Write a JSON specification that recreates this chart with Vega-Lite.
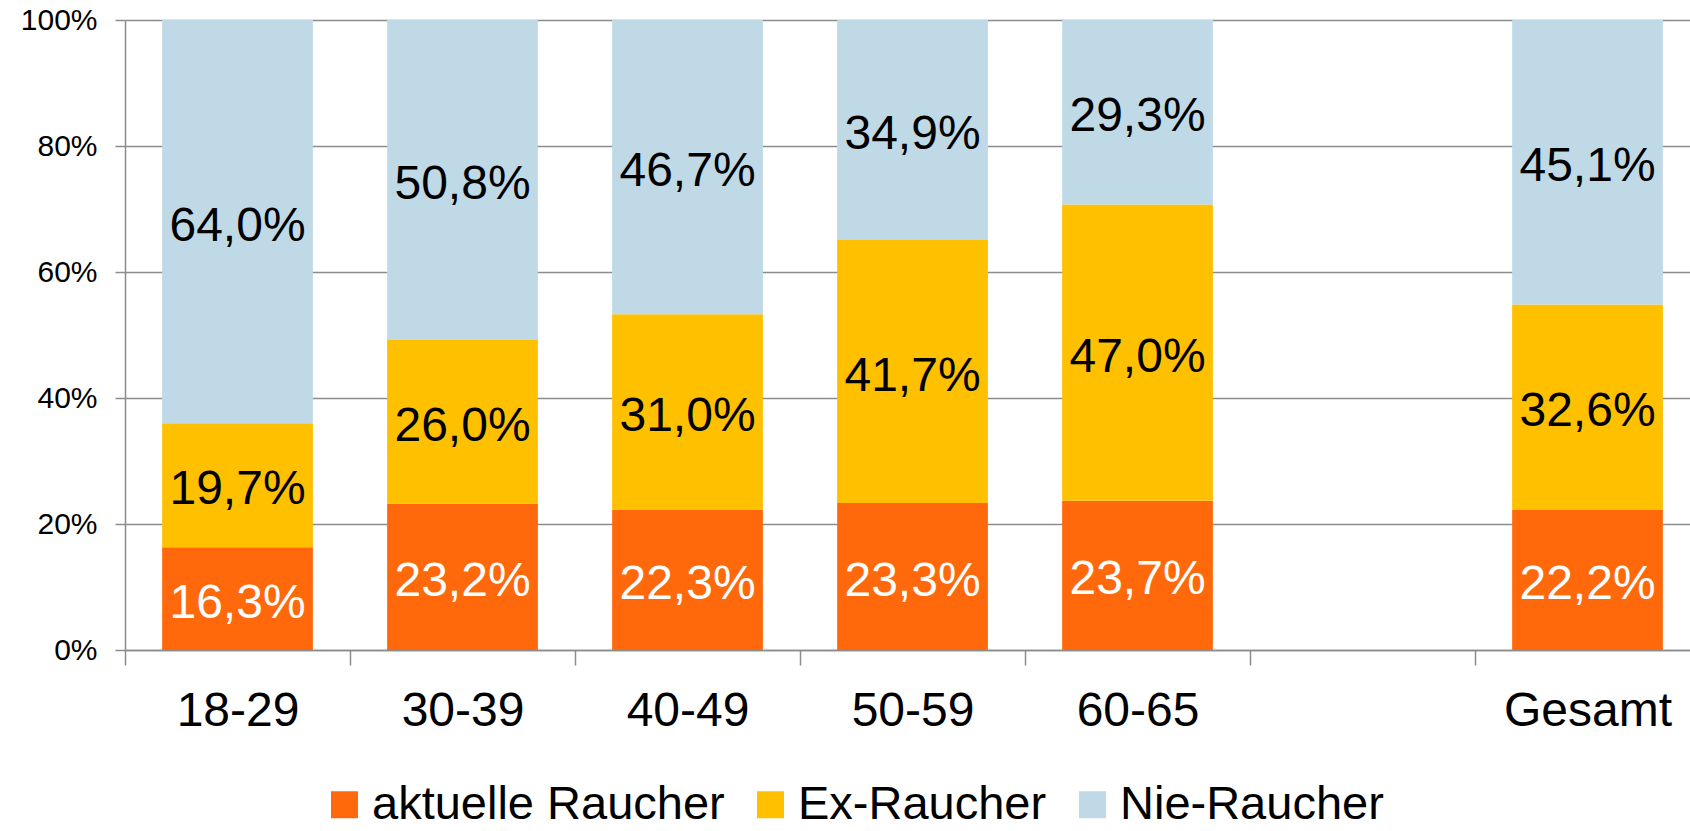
{
  "$schema": "https://vega.github.io/schema/vega-lite/v6.json",
  "width": 1565,
  "height": 630,
  "autosize": {"type": "none"},
  "padding": {"left": 125, "top": 20, "right": 0, "bottom": 181},
  "config": {
    "locale": {"number": {"decimal": ",", "thousands": ".", "grouping": [3], "currency": ["", "%"]}},
    "view": {"stroke": null},
    "font": "Liberation Sans"
  },
  "data": {
    "values": [
      {"Gruppe": "18-29", "Status": "aktuelle Raucher", "Rang": 1, "Anteil": 16.3},
      {"Gruppe": "18-29", "Status": "Ex-Raucher", "Rang": 2, "Anteil": 19.7},
      {"Gruppe": "18-29", "Status": "Nie-Raucher", "Rang": 3, "Anteil": 64.0},
      {"Gruppe": "30-39", "Status": "aktuelle Raucher", "Rang": 1, "Anteil": 23.2},
      {"Gruppe": "30-39", "Status": "Ex-Raucher", "Rang": 2, "Anteil": 26.0},
      {"Gruppe": "30-39", "Status": "Nie-Raucher", "Rang": 3, "Anteil": 50.8},
      {"Gruppe": "40-49", "Status": "aktuelle Raucher", "Rang": 1, "Anteil": 22.3},
      {"Gruppe": "40-49", "Status": "Ex-Raucher", "Rang": 2, "Anteil": 31.0},
      {"Gruppe": "40-49", "Status": "Nie-Raucher", "Rang": 3, "Anteil": 46.7},
      {"Gruppe": "50-59", "Status": "aktuelle Raucher", "Rang": 1, "Anteil": 23.3},
      {"Gruppe": "50-59", "Status": "Ex-Raucher", "Rang": 2, "Anteil": 41.7},
      {"Gruppe": "50-59", "Status": "Nie-Raucher", "Rang": 3, "Anteil": 34.9},
      {"Gruppe": "60-65", "Status": "aktuelle Raucher", "Rang": 1, "Anteil": 23.7},
      {"Gruppe": "60-65", "Status": "Ex-Raucher", "Rang": 2, "Anteil": 47.0},
      {"Gruppe": "60-65", "Status": "Nie-Raucher", "Rang": 3, "Anteil": 29.3},
      {"Gruppe": "Gesamt", "Status": "aktuelle Raucher", "Rang": 1, "Anteil": 22.2},
      {"Gruppe": "Gesamt", "Status": "Ex-Raucher", "Rang": 2, "Anteil": 32.6},
      {"Gruppe": "Gesamt", "Status": "Nie-Raucher", "Rang": 3, "Anteil": 45.1}
    ]
  },
  "encoding": {
    "x": {
      "field": "Gruppe",
      "type": "nominal",
      "title": null,
      "sort": null,
      "scale": {
        "domain": ["18-29", "30-39", "40-49", "50-59", "60-65", " ", "Gesamt"],
        "paddingInner": 0.33,
        "paddingOuter": 0.1428,
        "align": 0.578
      },
      "axis": {
        "tickOffset": -112.5,
        "labelOffset": 112.5,
        "tickSize": 15,
        "tickColor": "#8c8c8c",
        "tickWidth": 1.5,
        "domainColor": "#8c8c8c",
        "domainWidth": 1.5,
        "labelFontSize": 48,
        "labelColor": "black",
        "labelPadding": 22,
        "labelAngle": 0,
        "labelLimit": 400,
        "grid": false
      }
    }
  },
  "layer": [
    {
      "mark": {"type": "bar"},
      "encoding": {
        "y": {
          "field": "Anteil",
          "type": "quantitative",
          "stack": "normalize",
          "title": null,
          "scale": {"domain": [0, 1]},
          "axis": {
            "format": ".0%",
            "values": [0, 0.2, 0.4, 0.6, 0.8, 1],
            "labelFontSize": 30,
            "labelColor": "black",
            "labelPadding": 18,
            "tickSize": 10,
            "tickColor": "#8c8c8c",
            "tickWidth": 1.5,
            "domainColor": "#8c8c8c",
            "domainWidth": 1.5,
            "grid": true,
            "gridColor": "#8c8c8c",
            "gridWidth": 1.5
          }
        },
        "color": {
          "field": "Status",
          "type": "nominal",
          "scale": {
            "domain": ["aktuelle Raucher", "Ex-Raucher", "Nie-Raucher"],
            "range": ["#FF690C", "#FFC000", "#C0D9E6"]
          },
          "legend": {
            "title": null,
            "orient": "none",
            "legendX": 196,
            "legendY": 761,
            "direction": "horizontal",
            "symbolType": "square",
            "symbolSize": 729,
            "symbolStrokeWidth": 0,
            "symbolOpacity": 1,
            "labelFontSize": 47,
            "labelColor": "black",
            "labelOffset": 4,
            "labelLimit": 1000,
            "columnPadding": 22
          }
        },
        "order": {"field": "Rang", "type": "quantitative"}
      }
    },
    {
      "mark": {"type": "text", "fontSize": 48, "align": "center", "baseline": "middle", "dy": 5},
      "encoding": {
        "y": {"field": "Anteil", "type": "quantitative", "stack": "normalize", "bandPosition": 0.5},
        "detail": {"field": "Status", "type": "nominal"},
        "order": {"field": "Rang", "type": "quantitative"},
        "text": {"field": "Anteil", "type": "quantitative", "format": "$.1f"},
        "color": {
          "condition": {"test": "datum.Status === 'aktuelle Raucher'", "value": "white"},
          "value": "black"
        }
      }
    }
  ]
}
